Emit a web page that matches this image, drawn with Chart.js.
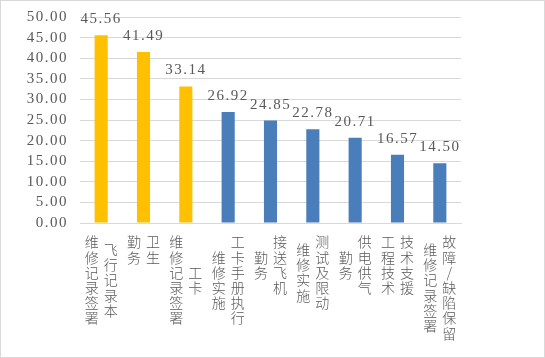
<!DOCTYPE html>
<html>
<head>
<meta charset="utf-8">
<script src="https://cdn.jsdelivr.net/npm/chart.js@4/dist/chart.umd.min.js"></script>
<style>
  html, body { margin: 0; padding: 0; background: #fff; }
  #wrap { width: 545px; height: 358px; }
</style>
</head>
<body>
<div id="wrap"><canvas id="myChart" width="545" height="358"></canvas></div>
<script>
// each category label is written as upright vertical columns, left to right
var labelColumns = [
  ["维修记录签署", "飞行记录本"],
  ["勤务", "卫生"],
  ["维修记录签署", "工卡"],
  ["维修实施", "工卡手册执行"],
  ["勤务", "接送飞机"],
  ["维修实施", "测试及限动"],
  ["勤务", "供电供气"],
  ["工程技术", "技术支援"],
  ["维修记录签署", "故障/缺陷保留"]
];
var categories = labelColumns.map(function (c) { return c.join(""); });
var values = [45.56, 41.49, 33.14, 26.92, 24.85, 22.78, 20.71, 16.57, 14.50];
var barColors = [
  "#FFC000", "#FFC000", "#FFC000",
  "#4A7EBB", "#4A7EBB", "#4A7EBB", "#4A7EBB", "#4A7EBB", "#4A7EBB"
];

var textGray = "#595959";
var numFont = "'Liberation Serif', 'DejaVu Serif', serif";
var cjkFont = "'Noto Sans CJK SC', sans-serif";

var decorations = {
  id: "decorations",
  beforeDraw: function (chart) {
    var ctx = chart.ctx;
    ctx.save();
    ctx.fillStyle = "#fff";
    ctx.fillRect(0, 0, chart.width, chart.height);
    ctx.strokeStyle = "#d9d9d9";
    ctx.lineWidth = 1;
    ctx.strokeRect(0.5, 0.5, chart.width - 1, chart.height - 1);
    ctx.restore();
    // wider digit spacing, like the original's font
    ctx.letterSpacing = "1.5px";
  },
  afterDatasetsDraw: function (chart) {
    var ctx = chart.ctx;
    var meta = chart.getDatasetMeta(0);
    var xScale = chart.scales.x;
    ctx.save();
    // value labels above bars
    ctx.letterSpacing = "1.5px";
    ctx.font = "15px " + numFont;
    ctx.fillStyle = textGray;
    ctx.textAlign = "center";
    ctx.textBaseline = "alphabetic";
    meta.data.forEach(function (bar, i) {
      ctx.fillText(values[i].toFixed(2), bar.x, bar.y - 12);
    });
    // vertical category labels
    ctx.letterSpacing = "0px";
    var pitch = 15.2;
    var top = chart.chartArea.bottom + 12;
    ctx.font = "300 14px " + cjkFont;
    ctx.textBaseline = "top";
    labelColumns.forEach(function (cols, i) {
      var cx = xScale.getPixelForValue(i);
      var maxN = Math.max.apply(null, cols.map(function (s) { return s.length; }));
      cols.forEach(function (col, j) {
        var x = cx + (j - (cols.length - 1) / 2) * 19;
        var y0 = top + (maxN - col.length) * pitch / 2;
        for (var k = 0; k < col.length; k++) {
          ctx.fillText(col[k], x, y0 + k * pitch);
        }
      });
    });
    ctx.restore();
  }
};

new Chart("myChart", {
  type: "bar",
  data: {
    labels: categories,
    datasets: [{
      data: values,
      backgroundColor: barColors,
      barPercentage: 0.31,
      categoryPercentage: 1
    }]
  },
  options: {
    responsive: false,
    animation: false,
    layout: { padding: { top: 17, right: 84, bottom: 135, left: 0 } },
    plugins: {
      legend: { display: false },
      tooltip: { enabled: false }
    },
    scales: {
      x: {
        afterFit: function (scale) { scale.height = 0; },
        grid: { display: false },
        border: { color: "#d9d9d9" },
        ticks: { display: false }
      },
      y: {
        min: 0,
        max: 50,
        afterFit: function (scale) {
          scale.width = 80;
          scale.paddingTop = 0;
          scale.paddingBottom = 0;
        },
        grid: { color: "#d9d9d9", drawTicks: false },
        border: { display: false },
        ticks: {
          stepSize: 5,
          autoSkip: false,
          padding: 12,
          color: textGray,
          font: { family: numFont, size: 15 },
          callback: function (v) { return v.toFixed(2); }
        }
      }
    }
  },
  plugins: [decorations]
});
</script>
</body>
</html>
